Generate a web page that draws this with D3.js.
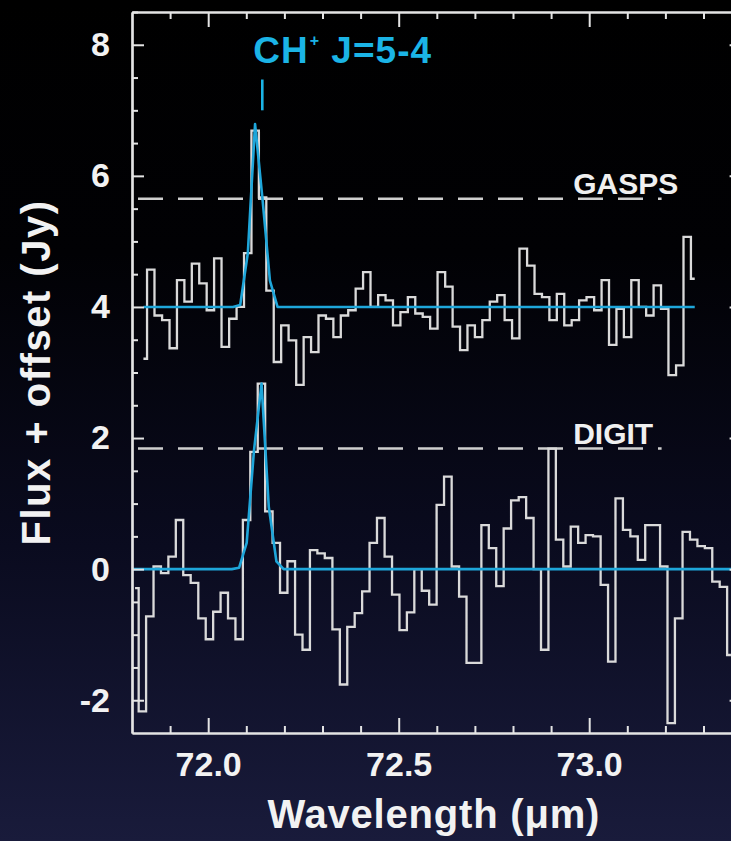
<!DOCTYPE html>
<html>
<head>
<meta charset="utf-8">
<script src="https://cdn.jsdelivr.net/npm/d3@7"></script>
<style>
  html, body { margin: 0; padding: 0; background: #000; }
  svg { display: block; }
</style>
</head>
<body>
<svg id="chart" width="731" height="841"></svg>
<script>
// ---------------------------------------------------------------------------
// Spectra around the CH+ J=5-4 line (72.14 µm)
// ---------------------------------------------------------------------------

// GASPS spectrum: bin centres (µm) and flux (Jy), plotted with a +4 Jy offset
const gaspsWave = [
  71.830, 71.849, 71.869, 71.889, 71.908, 71.928, 71.947, 71.967, 71.986, 72.006,
  72.025, 72.045, 72.065, 72.084, 72.104, 72.123, 72.143, 72.162, 72.182, 72.201,
  72.221, 72.241, 72.260, 72.280, 72.299, 72.319, 72.338, 72.358, 72.377, 72.397,
  72.416, 72.436, 72.456, 72.475, 72.495, 72.514, 72.534, 72.553, 72.573, 72.592,
  72.612, 72.632, 72.651, 72.671, 72.690, 72.710, 72.729, 72.749, 72.768, 72.788,
  72.807, 72.827, 72.847, 72.866, 72.886, 72.905, 72.925, 72.944, 72.964, 72.983,
  73.003, 73.023, 73.042, 73.062, 73.081, 73.101, 73.120, 73.140, 73.159, 73.179,
  73.198, 73.218, 73.238, 73.257, 73.277
];
const gaspsFlux = [
  -0.79,  0.57, -0.13, -0.20, -0.63,  0.41,  0.08,  0.66,  0.36, -0.05,
   0.74, -0.61, -0.18,  0.00,  0.82,  2.69,  1.67,  0.25, -0.84, -0.28,
  -0.51, -1.19, -0.46, -0.69, -0.13, -0.18, -0.46, -0.13, -0.05,  0.28,
   0.53,  0.00,  0.18,  0.10, -0.28, -0.08,  0.15, -0.10, -0.15, -0.33,
   0.53,  0.31, -0.30, -0.66, -0.28, -0.46, -0.20,  0.08,  0.18, -0.20,
  -0.48,  0.89,  0.63,  0.20,  0.15, -0.20,  0.20, -0.28, -0.20,  0.10,
   0.15, -0.05,  0.41, -0.58, -0.03, -0.46,  0.41,  0.00, -0.13,  0.33,
  -0.03, -1.04, -0.89,  1.07,  0.43
];
const gaspsOffset = 4;

// Gaussian line fit to the GASPS spectrum, evaluated at the bin centres
const gaspsFitWave = [71.830, 72.065, 72.084, 72.104, 72.123, 72.143, 72.162, 72.182, 73.277];
const gaspsFitFlux = [0.00, 0.00, 0.03, 0.82, 2.79, 1.62, 0.40, 0.00, 0.00];

// DIGIT spectrum: bin centres (µm) and flux (Jy), no offset
const digitWave = [
  71.808, 71.827, 71.847, 71.866, 71.886, 71.905, 71.925, 71.944, 71.964, 71.984,
  72.003, 72.023, 72.042, 72.062, 72.081, 72.101, 72.120, 72.140, 72.159, 72.179,
  72.198, 72.218, 72.238, 72.257, 72.277, 72.296, 72.316, 72.336, 72.355, 72.375,
  72.394, 72.414, 72.433, 72.453, 72.473, 72.492, 72.512, 72.531, 72.551, 72.570,
  72.590, 72.609, 72.629, 72.649, 72.668, 72.688, 72.707, 72.727, 72.746, 72.766,
  72.785, 72.805, 72.825, 72.844, 72.864, 72.883, 72.903, 72.922, 72.942, 72.961,
  72.981, 73.000, 73.020, 73.040, 73.059, 73.079, 73.098, 73.118, 73.137, 73.157,
  73.176, 73.196, 73.215, 73.235, 73.255, 73.274, 73.294, 73.313, 73.333, 73.352,
  73.372
];
const digitFlux = [
  -0.29, -2.17, -0.72,  0.04, -0.06,  0.19,  0.75, -0.09, -0.21, -0.75,
  -1.07, -0.65, -0.36, -0.75, -1.07,  0.75,  1.79,  2.83,  0.88,  0.40,
  -0.36,  0.12, -1.00, -1.23,  0.29,  0.24,  0.17, -0.92, -1.76, -0.88,
  -0.67, -0.34,  0.40,  0.78,  0.19, -0.39, -0.93, -0.66,  0.00, -0.33,
  -0.54,  0.98,  1.41,  0.04, -0.42, -1.43, -1.43,  0.67,  0.32, -0.26,
   0.62,  1.05,  1.10,  0.78,  0.00, -1.23,  1.84,  0.45,  0.04,  0.65,
   0.40,  0.52,  0.50, -0.24, -1.41,  1.08,  0.60,  0.50,  0.14,  0.67,
   0.67,  0.04, -2.35, -0.75,  0.57,  0.45,  0.35,  0.32, -0.19, -0.27,
  -1.31
];
const digitOffset = 0;

// Gaussian line fit to the DIGIT spectrum
const digitFitWave = [71.800, 72.062, 72.081, 72.101, 72.120, 72.140, 72.159, 72.179, 72.198, 73.400];
const digitFitFlux = [0.00, 0.00, 0.02, 0.40, 1.80, 2.83, 0.95, 0.12, 0.00, 0.00];

// Survey detection levels (Jy, before offset) and their labels
const surveyNames = ["GASPS", "DIGIT"];
const surveyLevels = [1.65, 1.84];
const surveyOffsets = [gaspsOffset, digitOffset];
const surveyLabelWave = 72.958;
const surveyLineEnd = 73.19;

// Line identification
const lineName = ["CH", "+", " J=5-4"];
const lineWave = 72.142;
const lineMarkFlux = [7.0, 7.47];

// Axes
const xMajor = [72.0, 72.5, 73.0];
const xMinor = [71.9, 72.1, 72.2, 72.3, 72.4, 72.6, 72.7, 72.8, 72.9, 73.1, 73.2, 73.3];
const yMajor = [-2, 0, 2, 4, 6, 8];
const yMinor = [-1.5, -1, -0.5, 0.5, 1, 1.5, 2.5, 3, 3.5, 4.5, 5, 5.5, 6.5, 7, 7.5, 8.5];
const xTitle = "Wavelength (\u03bcm)";
const yTitle = "Flux + offset (Jy)";

// ---------------------------------------------------------------------------
const W = 731, H = 841;
const plot = { left: 132, right: 741.6, top: 12, bottom: 733 };
const FONT = "'Liberation Sans', Arial, Helvetica, sans-serif";
const AXIS = "#e4e4e4";
const CYAN = "#1ea6da";
const CYAN_TEXT = "#1bb4e6";

const svg = d3.select("#chart");

// dark slide background, black at the top fading into navy
const defs = svg.append("defs");
const grad = defs.append("linearGradient")
  .attr("id", "bg").attr("x1", 0).attr("y1", 0).attr("x2", 0).attr("y2", 1);
grad.append("stop").attr("offset", "0%").attr("stop-color", "#000000");
grad.append("stop").attr("offset", "30%").attr("stop-color", "#010104");
grad.append("stop").attr("offset", "65%").attr("stop-color", "#0a0b1f");
grad.append("stop").attr("offset", "100%").attr("stop-color", "#191b3b");
svg.append("rect").attr("width", W).attr("height", H).attr("fill", "url(#bg)");

const x = d3.scaleLinear().domain([71.8, 73.4]).range([plot.left, plot.right]);
const y = d3.scaleLinear().domain([-2.5, 8.5]).range([plot.bottom, plot.top]);

// ---- spectra -------------------------------------------------------------
const stepLine = d3.line().x(d => x(d[0])).y(d => y(d[1])).curve(d3.curveStep);
const fitLine = d3.line().x(d => x(d[0])).y(d => y(d[1]));

const gaspsPts = gaspsWave.map((w, i) => [w, gaspsFlux[i] + gaspsOffset]);
const digitPts = digitWave.map((w, i) => [w, digitFlux[i] + digitOffset]);
const gaspsFit = gaspsFitWave.map((w, i) => [w, gaspsFitFlux[i] + gaspsOffset]);
const digitFit = digitFitWave.map((w, i) => [w, digitFitFlux[i] + digitOffset]);

const g = svg.append("g");

// detection-level dashed lines
surveyLevels.forEach((lv, i) => {
  g.append("line")
    .attr("x1", x(71.8)).attr("x2", x(surveyLineEnd))
    .attr("y1", y(lv + surveyOffsets[i])).attr("y2", y(lv + surveyOffsets[i]))
    .attr("stroke", "#cfcfcf").attr("stroke-width", 2.6)
    .attr("stroke-dasharray", "25,15").attr("stroke-dashoffset", 34);
});

[gaspsPts, digitPts].forEach(pts => {
  g.append("path").datum(pts)
    .attr("d", stepLine)
    .attr("fill", "none").attr("stroke", "#dadada")
    .attr("stroke-width", 2.3).attr("stroke-linejoin", "miter");
});

[gaspsFit, digitFit].forEach(pts => {
  g.append("path").datum(pts)
    .attr("d", fitLine)
    .attr("fill", "none").attr("stroke", CYAN)
    .attr("stroke-width", 2.6).attr("stroke-linejoin", "round");
});

// survey labels
surveyNames.forEach((name, i) => {
  g.append("text")
    .attr("x", x(surveyLabelWave))
    .attr("y", y(surveyLevels[i] + surveyOffsets[i]) - 5)
    .attr("fill", "#f0f0f0")
    .attr("font-family", FONT).attr("font-weight", "bold").attr("font-size", 30)
    .text(name);
});

// line identification: tick mark and label
g.append("line")
  .attr("x1", x(lineWave)).attr("x2", x(lineWave))
  .attr("y1", y(lineMarkFlux[0])).attr("y2", y(lineMarkFlux[1]))
  .attr("stroke", CYAN_TEXT).attr("stroke-width", 2.6);

const title = g.append("text")
  .attr("x", x(lineWave) - 9).attr("y", 63)
  .attr("fill", CYAN_TEXT)
  .attr("font-family", FONT).attr("font-weight", "bold").attr("font-size", 37)
  .attr("letter-spacing", 1);
title.append("tspan").text(lineName[0]);
title.append("tspan").attr("dx", 1).attr("dy", -17).attr("font-size", 16).text(lineName[1]);
title.append("tspan").attr("dy", 17).text(lineName[2]);

// ---- axes ----------------------------------------------------------------
function styleAxis(sel) {
  sel.select(".domain").attr("stroke", AXIS).attr("stroke-width", 2.2);
  sel.selectAll(".tick line").attr("stroke", AXIS).attr("stroke-width", 2);
  sel.selectAll(".tick text")
    .attr("fill", "#f2f2f2").attr("font-family", FONT)
    .attr("font-weight", "bold").attr("font-size", 34);
}

// bottom
svg.append("g").attr("transform", `translate(0,${plot.bottom})`)
  .call(d3.axisBottom(x).tickValues(xMinor).tickSize(-7).tickSizeOuter(0).tickFormat(""))
  .call(styleAxis);
svg.append("g").attr("transform", `translate(0,${plot.bottom})`)
  .call(d3.axisBottom(x).tickValues(xMajor).tickSize(-15).tickSizeOuter(0)
        .tickPadding(19).tickFormat(d3.format(".1f")))
  .call(styleAxis);
// top
svg.append("g").attr("transform", `translate(0,${plot.top})`)
  .call(d3.axisTop(x).tickValues(xMinor).tickSize(-7).tickSizeOuter(0).tickFormat(""))
  .call(styleAxis);
svg.append("g").attr("transform", `translate(0,${plot.top})`)
  .call(d3.axisTop(x).tickValues(xMajor).tickSize(-15).tickSizeOuter(0).tickFormat(""))
  .call(styleAxis);
// left
svg.append("g").attr("transform", `translate(${plot.left},0)`)
  .call(d3.axisLeft(y).tickValues(yMinor).tickSize(-6).tickSizeOuter(0).tickFormat(""))
  .call(styleAxis);
svg.append("g").attr("transform", `translate(${plot.left},0)`)
  .call(d3.axisLeft(y).tickValues(yMajor).tickSize(-12).tickSizeOuter(0)
        .tickPadding(22).tickFormat(d => String(d)))
  .call(styleAxis);
// right
svg.append("g").attr("transform", `translate(${plot.right},0)`)
  .call(d3.axisRight(y).tickValues(yMinor).tickSize(-6).tickSizeOuter(0).tickFormat(""))
  .call(styleAxis);
svg.append("g").attr("transform", `translate(${plot.right},0)`)
  .call(d3.axisRight(y).tickValues(yMajor).tickSize(-12).tickSizeOuter(0).tickFormat(""))
  .call(styleAxis);

// axis titles
svg.append("text")
  .attr("x", (plot.left + 741.6) / 2 - 3).attr("y", 828)
  .attr("text-anchor", "middle").attr("fill", "#f2f2f2")
  .attr("font-family", FONT).attr("font-weight", "bold").attr("font-size", 40)
  .attr("letter-spacing", 0.8)
  .text(xTitle);

svg.append("text")
  .attr("transform", `translate(50,${(plot.top + plot.bottom) / 2})rotate(-90)`)
  .attr("text-anchor", "middle").attr("fill", "#f2f2f2")
  .attr("font-family", FONT).attr("font-weight", "bold").attr("font-size", 40)
  .attr("letter-spacing", 1.5)
  .text(yTitle);
</script>
</body>
</html>
